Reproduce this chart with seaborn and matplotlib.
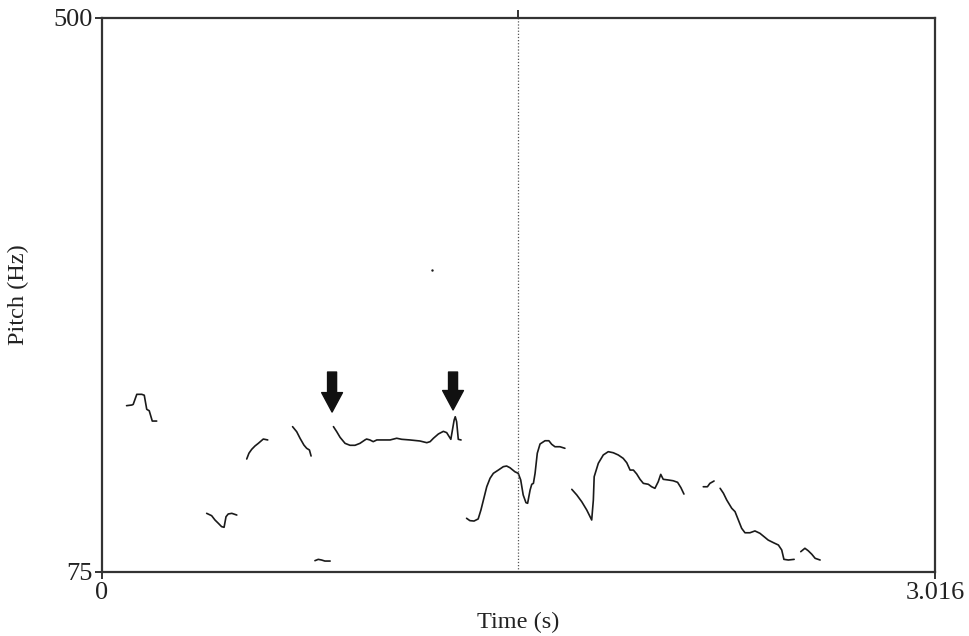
"""
Praat-style pitch contour (Time vs Pitch) redrawn with seaborn.
"""

import matplotlib
matplotlib.use('Agg')

import numpy as np
import pandas as pd
import seaborn as sns
import matplotlib.pyplot as plt

sns.set_style("ticks")
plt.rcParams['font.family'] = ['Liberation Serif', 'DejaVu Serif']

# pitch track pieces, time (s) / pitch (Hz)
seg1_t = [0.089, 0.108, 0.113, 0.126, 0.144, 0.153, 0.162, 0.171, 0.182, 0.198]
seg1_f = [202.6, 203.1, 203.6, 211.3, 211.3, 210.6, 199.8, 198.7, 190.8, 190.8]

seg2_t = [0.379, 0.397, 0.409, 0.421, 0.433, 0.442, 0.449, 0.457, 0.470, 0.488]
seg2_f = [120.0, 118.2, 114.9, 112.4, 109.8, 109.3, 117.4, 119.5, 120.0, 118.7]

seg3_t = [0.524, 0.532, 0.542, 0.554, 0.566, 0.584, 0.600]
seg3_f = [161.7, 166.1, 169.1, 171.7, 173.7, 177.0, 176.3]

seg4_t = [0.690, 0.705, 0.717, 0.731, 0.741, 0.751, 0.757]
seg4_f = [186.5, 182.6, 177.6, 172.4, 169.9, 168.6, 164.0]

seg5_t = [0.771, 0.783, 0.795, 0.807, 0.826]
seg5_f = [83.7, 84.7, 84.2, 83.4, 83.4]

seg6_t = [0.838, 0.850, 0.862, 0.880, 0.898, 0.916, 0.934, 0.952, 0.958, 0.970,
          0.982, 0.995, 1.019, 1.043, 1.067, 1.085, 1.115, 1.151, 1.176, 1.188,
          1.200, 1.218, 1.236, 1.248, 1.263, 1.275, 1.279, 1.284, 1.290, 1.300]
seg6_f = [186.5, 182.6, 178.3, 173.7, 172.2, 172.2, 173.7, 176.3, 177.0, 176.3,
          175.0, 176.3, 176.3, 176.3, 177.6, 176.8, 176.3, 175.5, 174.2, 175.0,
          177.6, 180.9, 182.9, 181.9, 176.8, 191.6, 194.1, 190.3, 176.8, 176.3]

seg7_t = [1.320, 1.332, 1.347, 1.362, 1.372, 1.381, 1.393, 1.405, 1.417, 1.435,
          1.453, 1.465, 1.477, 1.495, 1.507, 1.516, 1.525, 1.535, 1.541, 1.550,
          1.556, 1.562, 1.568, 1.576, 1.586, 1.604, 1.618, 1.628, 1.640, 1.658,
          1.676]
seg7_f = [116.2, 114.4, 114.1, 115.7, 122.6, 130.2, 140.4, 146.9, 150.7, 153.2,
          155.8, 156.3, 155.0, 151.9, 150.7, 145.6, 134.1, 128.2, 127.7, 137.9,
          142.3, 143.0, 150.7, 166.1, 173.2, 175.7, 175.7, 173.0, 171.1, 171.1,
          169.9]

seg8_t = [1.701, 1.719, 1.737, 1.755, 1.773, 1.779, 1.782, 1.797, 1.815, 1.833,
          1.851, 1.869, 1.887, 1.900, 1.912, 1.924, 1.936, 1.948, 1.960, 1.978,
          1.990, 2.002, 2.014, 2.023, 2.032, 2.050, 2.068, 2.084, 2.096, 2.107]
seg8_f = [138.4, 134.1, 128.9, 122.6, 114.9, 130.2, 148.1, 158.4, 164.8, 167.3,
          166.5, 164.8, 162.2, 158.8, 153.2, 153.2, 150.2, 146.1, 143.0, 142.3,
          140.4, 139.2, 144.3, 149.9, 146.1, 145.6, 145.0, 143.8, 139.7, 134.8]

seg9_t = [2.177, 2.192, 2.201, 2.216]
seg9_f = [140.4, 140.4, 143.0, 144.8]

seg10_t = [2.238, 2.250, 2.262, 2.280, 2.292, 2.304, 2.316, 2.328, 2.346, 2.364,
           2.382, 2.400, 2.412, 2.431, 2.449, 2.461, 2.469, 2.485, 2.506]
seg10_f = [139.2, 135.4, 130.2, 123.9, 121.3, 114.9, 108.5, 105.1, 105.1, 106.5,
           104.7, 101.6, 99.5, 97.5, 95.7, 91.9, 84.7, 84.2, 84.7]

seg11_t = [2.530, 2.545, 2.557, 2.570, 2.582, 2.600]
seg11_f = [90.6, 93.2, 91.3, 88.6, 85.5, 84.2]

stray_t = [1.195]
stray_f = [306.7]

# arrows pointing at the plateau
arrow_t = [0.833, 1.271]
arrow_tip_f = [197.7, 199.3]
arrow_tail_f = [228.4, 228.4]

cursor_t = 1.506
t_min, t_max = 0, 3.016
f_min, f_max = 75, 500

segments = [(seg1_t, seg1_f), (seg2_t, seg2_f), (seg3_t, seg3_f), (seg4_t, seg4_f),
            (seg5_t, seg5_f), (seg6_t, seg6_f), (seg7_t, seg7_f), (seg8_t, seg8_f),
            (seg9_t, seg9_f), (seg10_t, seg10_f), (seg11_t, seg11_f)]
frames = []
for i, (t, f) in enumerate(segments):
    frames.append(pd.DataFrame({'time': t, 'pitch': f, 'seg': i}))
df = pd.concat(frames, ignore_index=True)

fig = plt.figure(figsize=(9.69, 6.36), dpi=100)
ax = fig.add_axes([102 / 969, 1 - 572 / 636, 833 / 969, 554 / 636])

sns.lineplot(data=df, x='time', y='pitch', units='seg', estimator=None,
             color='#1a1a1a', linewidth=1.2, ax=ax, legend=False)
sns.scatterplot(x=stray_t, y=stray_f, color='#1a1a1a', s=3, linewidth=0, ax=ax)

ax.axvline(cursor_t, color='#555555', linestyle=(0, (1, 1.5)), linewidth=0.9)

for t, tip, tail in zip(arrow_t, arrow_tip_f, arrow_tail_f):
    ax.annotate('', xy=(t, tip), xytext=(t, tail),
                arrowprops=dict(facecolor='#111111', edgecolor='#111111',
                                width=6.5, headwidth=15, headlength=14, shrink=0))

ax.set_xlim(t_min, t_max)
ax.set_ylim(f_min, f_max)
ax.set_xticks([t_min, t_max])
ax.set_xticklabels(['0', '3.016'])
ax.set_yticks([f_min, f_max])
ax.set_yticklabels(['75', '500'])
ax.set_xlabel('Time (s)', fontsize=17.5, labelpad=6, color='#222222')
ax.set_ylabel('Pitch (Hz)', fontsize=17.5, labelpad=17, color='#222222')
ax.tick_params(axis='both', labelsize=19, length=5, width=1.4, color='#333333',
               labelcolor='#222222', pad=2)

top = ax.secondary_xaxis('top')
top.set_xticks([cursor_t])
top.set_xticklabels([''])
top.tick_params(length=6, width=1.4, color='#333333')
top.spines['top'].set_visible(False)

for sp in ax.spines.values():
    sp.set_visible(True)
    sp.set_linewidth(1.6)
    sp.set_color('#333333')

plt.savefig('out.png', dpi=100)
